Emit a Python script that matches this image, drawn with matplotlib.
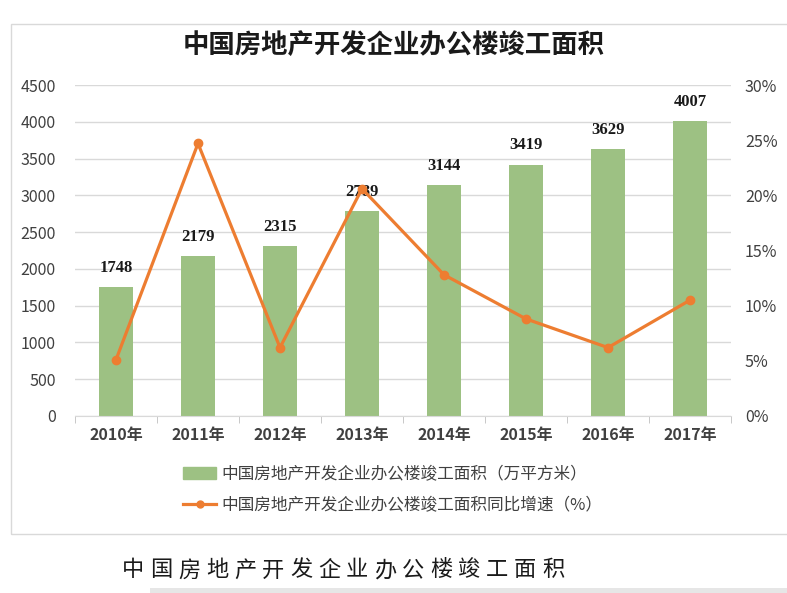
import numpy as np
import matplotlib.pyplot as plt
from matplotlib.patches import Rectangle
from matplotlib.lines import Line2D

plt.rcParams['font.family'] = ['Noto Sans CJK SC', 'DejaVu Sans']

years = ['2010年', '2011年', '2012年', '2013年', '2014年', '2015年', '2016年', '2017年']
area = [1748, 2179, 2315, 2789, 3144, 3419, 3629, 4007]
growth = [5.1, 24.7, 6.2, 20.6, 12.8, 8.8, 6.2, 10.5]
caption = '中国房地产开发企业办公楼竣工面积'

bar_color = '#9DC183'
line_color = '#ED7D31'
tick_color = '#404040'

fig = plt.figure(figsize=(7.87, 5.93), dpi=100)

# chart frame
fig.patches.append(Rectangle((11 / 787, 1 - 534 / 593), 1.0, (534 - 24) / 593,
                             transform=fig.transFigure, fill=False,
                             edgecolor='#D9D9D9', linewidth=1))
# gray strip at bottom
fig.patches.append(Rectangle((150 / 787, 0), 1.0, 5 / 593, transform=fig.transFigure,
                             facecolor='#E6E6E6', edgecolor='none'))

ax = fig.add_axes([75 / 787, 1 - 416 / 593, (731 - 75) / 787, (416 - 85) / 593])
x = np.arange(len(years))
ax.bar(x, area, width=0.42, color=bar_color, zorder=2)
for xi, v in zip(x, area):
    ax.text(xi, v + 260, str(v), ha='center', va='center', fontsize=12,
            fontweight='bold', family='Liberation Serif', color='#1a1a1a', zorder=5)

ax.set_xlim(-0.5, len(years) - 0.5)
ax.set_ylim(0, 4500)
ax.set_yticks(np.arange(0, 4501, 500))
ax.grid(axis='y', color='#D9D9D9', linewidth=1, zorder=0)
ax.set_xticks(x)
ax.set_xticklabels(years, fontweight='bold')
ax.set_xticks(np.arange(-0.5, len(years), 1), minor=True)
ax.tick_params(axis='x', which='major', length=0, pad=8, labelsize=11.5, labelcolor=tick_color)
ax.tick_params(axis='x', which='minor', length=5, color='#BFBFBF')
ax.tick_params(axis='y', length=0, pad=14, labelsize=11.5, labelcolor=tick_color)
for s in ['top', 'left', 'right']:
    ax.spines[s].set_visible(False)
ax.spines['bottom'].set_color('#D9D9D9')

ax2 = ax.twinx()
ax2.plot(x, growth, color=line_color, linewidth=2.3, marker='o', markersize=6, zorder=4)
ax2.set_ylim(0, 30)
ax2.set_yticks(np.arange(0, 31, 5))
ax2.set_yticklabels([f'{v}%' for v in range(0, 31, 5)])
ax2.tick_params(axis='y', length=0, pad=10, labelsize=11.5, labelcolor=tick_color)
for s in ['top', 'left', 'right', 'bottom']:
    ax2.spines[s].set_visible(False)

fig.text(0.5, 1 - 45 / 593, caption, ha='center', va='center',
         fontsize=19, fontweight='bold', color='#1a1a1a')

handles = [Rectangle((0, 0), 1, 1, color=bar_color),
           Line2D([], [], color=line_color, linewidth=2.3, marker='o', markersize=5)]
labels = ['中国房地产开发企业办公楼竣工面积（万平方米）',
          '中国房地产开发企业办公楼竣工面积同比增速（%）']
fig.legend(handles, labels, loc='center left', bbox_to_anchor=(168 / 787, 1 - 490 / 593),
           frameon=False, fontsize=12, labelcolor='#404040', handlelength=2.0,
           handletextpad=0.3, labelspacing=0.85)

# caption below the chart, spaced characters
for i, ch in enumerate(caption):
    fig.text((122 + 28 * i) / 787, 1 - 570 / 593, ch, ha='left', va='center',
             fontsize=16, fontweight='light', color='#1a1a1a')

fig.savefig('out.png', dpi=100)
